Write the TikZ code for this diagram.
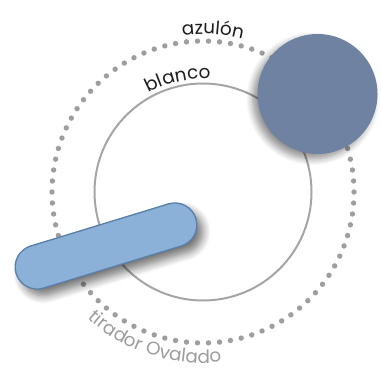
\documentclass[tikz,border=0pt]{standalone}
\usepackage{fontspec}
\setmainfont{Poppins}
\usepackage{xcolor}
\usepackage{tikz}
\usetikzlibrary{decorations.text,shadows.blur}
\definecolor{knobblue}{HTML}{7082A1}
\definecolor{pillblue}{HTML}{8CB1D9}
\definecolor{pilledge}{HTML}{5A7FA8}
\definecolor{ringgrey}{HTML}{A5A5A5}
\definecolor{dotgrey}{HTML}{9E9E9E}
\definecolor{ink}{HTML}{1C1C1C}
\definecolor{muted}{HTML}{9C9C9C}
\newcommand\lblfont{\fontsize{13.8}{16}\selectfont}
\tikzset{
  ring/.style={circle,draw=ringgrey,line width=1.5pt,inner sep=0pt,minimum size=162.75pt},
  knob/.style={circle,fill=knobblue,inner sep=0pt,minimum size=90pt,
               blur shadow={shadow blur steps=8,shadow xshift=-3.5pt,shadow yshift=-3.5pt,
                            shadow blur radius=5pt,shadow opacity=45}},
  pill/.style={rectangle,rounded corners=16.5pt,fill=pillblue,draw=pilledge,line width=1pt,
               inner sep=0pt,minimum width=141pt,minimum height=33pt,
               blur shadow={shadow blur steps=8,shadow xshift=4.5pt,shadow yshift=-5pt,
                            shadow blur radius=6pt,shadow opacity=55}},
  arclabel/.style={decorate,decoration={text along path,text align=center,#1}}
}
\begin{document}
\begin{tikzpicture}[x=0.75pt,y=0.75pt]
  \useasboundingbox (0,0) rectangle (381,375);
  \coordinate (c) at (203,183);
  % rings
  \node[ring] (blanco) at (c) {};
  \foreach \i in {0,...,85}
    \fill[dotgrey] (c) ++({360/86*\i}:151) circle[radius=2.7];
  % labels along the rings
  \path[arclabel={text color=ink,text={|\lblfont|azulón}}]
    (c) ++(120:158) arc[start angle=120,end angle=53,radius=158];
  \path[arclabel={text color=ink,text={|\lblfont|blanco}}]
    (c) ++(140:113) arc[start angle=140,end angle=65,radius=113];
  \path[arclabel={text color=muted,text={|\lblfont|tirador Ovalado}}]
    (c) ++(195:171) arc[start angle=195,end angle=309,radius=171];
  % handle and knob
  \node[pill,rotate=17] (tirador) at (106,129) {};
  \node[knob] (azulon) at (317.5,281) {};
\end{tikzpicture}
\end{document}
